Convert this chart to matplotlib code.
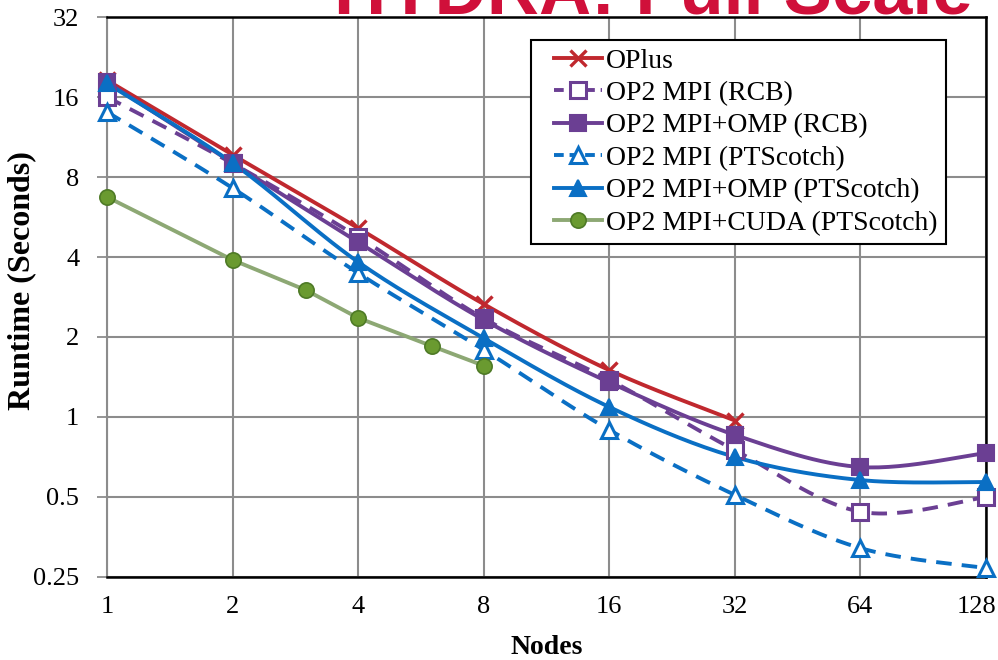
import numpy as np
import matplotlib
matplotlib.use("Agg")
import matplotlib.pyplot as plt
from matplotlib.ticker import FixedLocator, FixedFormatter, NullLocator
from matplotlib.transforms import ScaledTranslation
from matplotlib.legend_handler import HandlerLine2D

# ---- data ----
nodes = [1, 2, 4, 8, 16, 32, 64, 128]
tick_vals_y = [0.25, 0.5, 1, 2, 4, 8, 16, 32]
tick_labels_y = ["0.25", "0.5", "1", "2", "4", "8", "16", "32"]
tick_labels_x = ["1", "2", "4", "8", "16", "32", "64", "128"]

oplus_nodes = [1, 2, 4, 8, 16, 32]
oplus = [18.5, 9.7, 5.14, 2.66, 1.50, 0.97]

mpi_rcb = [16.0, 9.0, 4.76, 2.35, 1.38, 0.75, 0.44, 0.50]
omp_rcb = [18.2, 9.03, 4.55, 2.32, 1.35, 0.856, 0.648, 0.732]
mpi_pts = [14.05, 7.27, 3.48, 1.79, 0.894, 0.509, 0.321, 0.27]
omp_pts = [18.0, 9.03, 3.83, 1.98, 1.09, 0.707, 0.579, 0.569]

cuda_nodes = [1, 2, 3, 4, 6, 8]
cuda = [6.73, 3.90, 3.0, 2.36, 1.85, 1.56]

labels = ["OPlus", "OP2 MPI (RCB)", "OP2 MPI+OMP (RCB)", "OP2 MPI (PTScotch)",
          "OP2 MPI+OMP (PTScotch)", "OP2 MPI+CUDA (PTScotch)"]

RED = "#C0282E"
PURPLE = "#6B3F93"
BLUE = "#0A6FC4"
GREEN_LINE = "#8DA874"
GREEN_FILL = "#6A9A30"
GREEN_EDGE = "#4E7A26"


def smooth(xs, ys, n=30):
    """Catmull-Rom curve in log-log space (Excel-like smoothed line)."""
    lx = np.log2(np.asarray(xs, float))
    ly = np.log2(np.asarray(ys, float))
    px = np.concatenate([[lx[0]], lx, [lx[-1]]])
    py = np.concatenate([[ly[0]], ly, [ly[-1]]])
    outx, outy = [], []
    for i in range(1, len(px) - 2):
        p0, p1, p2, p3 = px[i - 1], px[i], px[i + 1], px[i + 2]
        q0, q1, q2, q3 = py[i - 1], py[i], py[i + 1], py[i + 2]
        c1x, c1y = p1 + (p2 - p0) / 6, q1 + (q2 - q0) / 6
        c2x, c2y = p2 - (p3 - p1) / 6, q2 - (q3 - q1) / 6
        t = np.linspace(0, 1, n)
        bx = (1 - t) ** 3 * p1 + 3 * (1 - t) ** 2 * t * c1x + 3 * (1 - t) * t ** 2 * c2x + t ** 3 * p2
        by = (1 - t) ** 3 * q1 + 3 * (1 - t) ** 2 * t * c1y + 3 * (1 - t) * t ** 2 * c2y + t ** 3 * q2
        outx.extend(bx)
        outy.extend(by)
    return 2 ** np.array(outx), 2 ** np.array(outy)


plt.rcParams["font.family"] = ["Liberation Serif", "DejaVu Serif"]

fig = plt.figure(figsize=(9.98, 6.6), dpi=100)
ax = fig.add_axes([0.1072, 0.1258, 0.8808, 0.8484])
ax.set_xscale("log", base=2)
ax.set_yscale("log", base=2)
ax.set_xlim(1, 128)
ax.set_ylim(0.25, 32)

lw = 2.8
series = [
    (oplus_nodes, oplus, RED, "-", dict(marker="x", ms=11, mew=2.4, mec=RED, mfc=RED)),
    (nodes, mpi_rcb, PURPLE, (0, (4, 2.6)), dict(marker="s", ms=11, mew=2.2, mec=PURPLE, mfc="white")),
    (nodes, omp_rcb, PURPLE, "-", dict(marker="s", ms=11, mew=1.5, mec=PURPLE, mfc=PURPLE)),
    (nodes, mpi_pts, BLUE, (0, (4, 2.6)), dict(marker="^", ms=12, mew=2.2, mec=BLUE, mfc="white")),
    (nodes, omp_pts, BLUE, "-", dict(marker="^", ms=12, mew=1.5, mec=BLUE, mfc=BLUE)),
]
handles = []
for (xs, ys, col, ls, mk), lab in zip(series, labels[:5]):
    sx, sy = smooth(xs, ys)
    ax.plot(sx, sy, color=col, lw=lw, ls=ls, zorder=3, clip_on=False)
    ax.plot(xs, ys, ls="none", zorder=4, clip_on=False, **mk)
    h, = ax.plot([], [], color=col, lw=lw, ls=(0, (2.5, 1.5)) if ls != "-" else "-", **mk)
    handles.append(h)

ax.plot(cuda_nodes, cuda, color=GREEN_LINE, lw=lw, zorder=3)
ax.plot(cuda_nodes, cuda, ls="none", marker="o", ms=11, mfc=GREEN_FILL, mec=GREEN_EDGE,
        mew=1.2, zorder=4, clip_on=False)
h, = ax.plot([], [], color=GREEN_LINE, lw=lw, marker="o", ms=11, mfc=GREEN_FILL, mec=GREEN_EDGE, mew=1.2)
handles.append(h)

ax.xaxis.set_major_locator(FixedLocator(nodes))
ax.xaxis.set_major_formatter(FixedFormatter(tick_labels_x))
ax.xaxis.set_minor_locator(NullLocator())
ax.yaxis.set_major_locator(FixedLocator(tick_vals_y))
ax.yaxis.set_major_formatter(FixedFormatter(tick_labels_y))
ax.yaxis.set_minor_locator(NullLocator())

ax.grid(True, color="#8C8C8C", lw=1.5, zorder=0)
ax.set_axisbelow(True)
ax.tick_params(axis="x", length=0, pad=14, labelsize=19)
ax.tick_params(axis="y", length=7, width=1.3, color="#8C8C8C", direction="out", pad=13, labelsize=19)
for s in ["top", "right", "bottom"]:
    ax.spines[s].set_color("black")
    ax.spines[s].set_linewidth(1.8)
ax.spines["left"].set_color("#8C8C8C")
ax.spines["left"].set_linewidth(1.5)

# keep the last x tick label inside the canvas, as in the reference
fig.canvas.draw()
last = ax.get_xticklabels()[-1]
last.set_ha("right")
last.set_transform(last.get_transform() + ScaledTranslation(10 / 100, 0, fig.dpi_scale_trans))

ax.set_xlabel("Nodes", fontsize=20, fontweight="bold", labelpad=12)
ax.set_ylabel("Runtime (Seconds)", fontsize=23, fontweight="bold")
ax.yaxis.label.set_va("center")
ax.yaxis.set_label_coords(-0.097, 0.529)

leg_fs = 20
hmap = {h: HandlerLine2D(xpad=0.53) for h in handles}
leg = ax.legend(handles, labels, loc="upper right", bbox_to_anchor=(0.9545, 0.959),
                fontsize=leg_fs, frameon=True, fancybox=False, framealpha=1,
                edgecolor="black", handlelength=2.26, handletextpad=0.15,
                labelspacing=0.25, borderpad=0.3, borderaxespad=0, handler_map=hmap)
leg.get_frame().set_linewidth(1.5)

fig.text(0.655, 1.0 - 14 / 660, "HYDRA: Full Scale", color="#D0103A", fontsize=52,
         fontweight="bold", family=["Liberation Sans", "DejaVu Sans"],
         ha="center", va="baseline")

fig.savefig("out.png", dpi=100)
